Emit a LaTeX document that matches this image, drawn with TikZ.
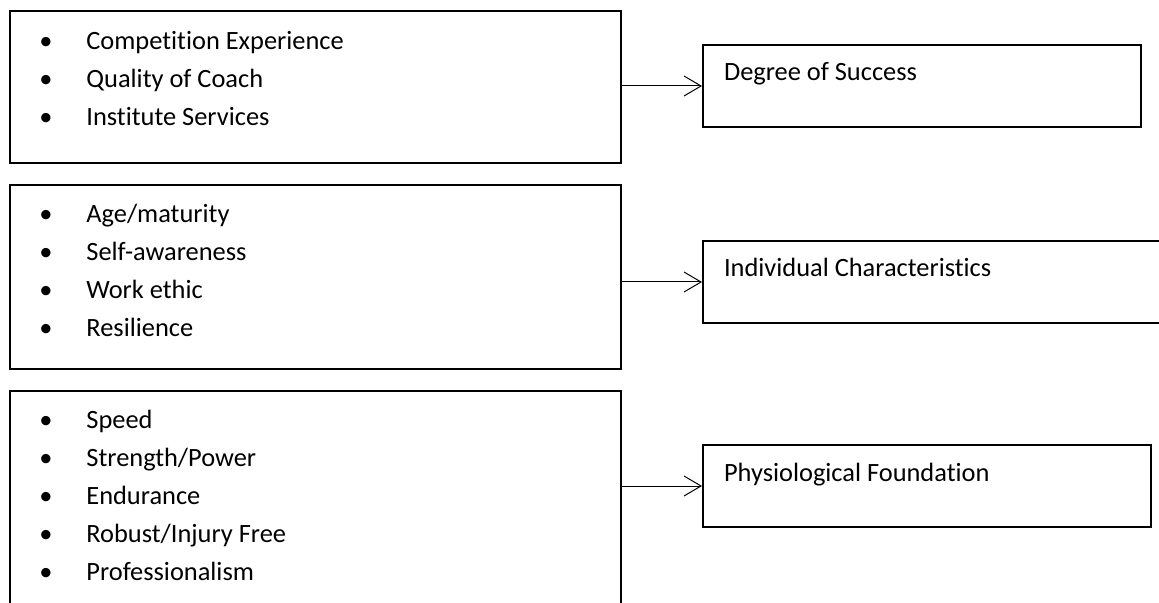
\documentclass[tikz,border=0pt]{standalone}
\usepackage{fontspec}
\setmainfont{Carlito}[Ligatures=NoCommon]
\usetikzlibrary{arrows.meta}

\newcommand{\blt}{\makebox[23.5pt][l]{\textbullet}}

\begin{document}
\begin{tikzpicture}[x=0.5pt, y=-0.5pt,
  box/.style={draw, line width=1pt, inner sep=0pt, anchor=north west},
  item/.style={anchor=base west, inner sep=0pt, font=\fontsize{13.2}{16}\selectfont},
  tag/.style={box, align=flush left, inner ysep=0pt, inner xsep=10.5pt,
    text height=18pt, text depth=23pt, font=\fontsize{13.2}{16}\selectfont},
  link/.style={-{Straight Barb[length=8.5pt, width=10pt]}, line width=0.5pt}]
\useasboundingbox (0,0) rectangle (1159,603);
\clip (0,0) rectangle (1159,603);

% left boxes
\node[box, minimum width=305.5pt, minimum height=76pt] (envlist) at (9,10) {};
\node[box, minimum width=305.5pt, minimum height=92pt] (indlist) at (9,184) {};
\node[box, minimum width=305.5pt, minimum height=120pt] (physlist) at (9,390) {};

\foreach \t [count=\i] in {Competition Experience, Quality of Coach, Institute Services}
  \node[item] (env-\i) at (39,{50+38*(\i-1)}) {\blt\t};
\foreach \t [count=\i] in {Age/maturity, Self-awareness, Work ethic, Resilience}
  \node[item] (ind-\i) at (39,{223+38*(\i-1)}) {\blt\t};
\foreach \t [count=\i] in {Speed, Strength/Power, Endurance, Robust/Injury Free, Professionalism}
  \node[item] (phys-\i) at (39,{428+38*(\i-1)}) {\blt\t};

% right boxes
\node[tag, text width=198pt] (success) at (702,44) {Degree of Success};
\node[tag, text width=215pt] (indiv) at (702,240) {Individual Characteristics};
\node[tag, text width=203pt] (physio) at (702,444) {Physiological Foundation};

\draw[link] (success.west -| envlist.east) -- (success.west);
\draw[link] (indiv.west -| indlist.east) -- (indiv.west);
\draw[link] (physio.west -| physlist.east) -- (physio.west);
\end{tikzpicture}
\end{document}
